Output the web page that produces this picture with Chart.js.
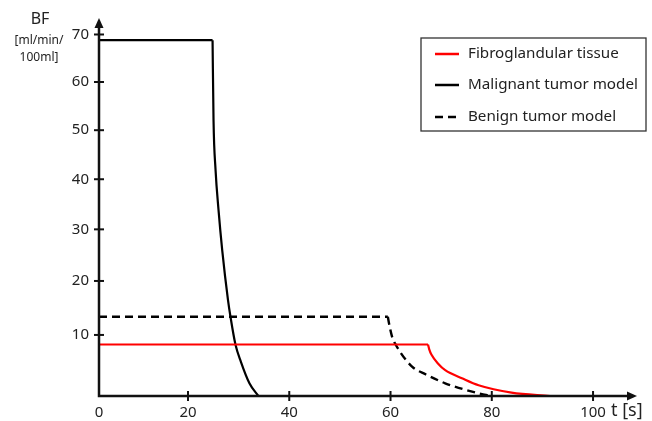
<!DOCTYPE html>
<html><head><meta charset="utf-8">
<script src="https://cdn.jsdelivr.net/npm/chart.js@4.4.1/dist/chart.umd.min.js"></script>
<style>html,body{margin:0;padding:0;background:#fff;} #wrap{width:652px;height:421px;}</style>
</head><body><div id="wrap"><canvas id="c" width="652" height="421"></canvas></div>
<script>
// ---- data ----
const xTickValues = [20, 40, 60, 80, 100];
const yTickValues = [10, 20, 30, 40, 50, 60, 70];
const seriesNames = ['Fibroglandular tissue', 'Malignant tumor model', 'Benign tumor model'];

// time [s] and blood flow [ml/min/100ml]; index 1 is the end of the plateau
const fibroT  = [2.42, 67.4, 67.63, 68.1, 69.5, 70.8, 74.1, 77.4, 83.9, 91.5];
const fibroBF = [8.3,  8.3,  7.5,   6.5,  4.9,  3.9,  2.6,  1.5,  0.42, 0];

const maligT  = [2.42, 24.85, 25.04, 25.44, 26.03, 26.76, 27.9, 28.39, 29.37, 30.45, 32.13, 33.9];
const maligBF = [68.8, 68.8,  52.1,  41.9,  33.8,  25.9,  16.4, 13.3,  8.3,   5.3,   1.8,   0];

const benignT  = [2.42, 59.47, 59.7, 60.3, 61.0, 64.25, 67.0, 70.8, 77.4, 80.0];
const benignBF = [13.3, 13.3,  12.1, 9.7,  8.3,  4.5,   3.2,  1.8,  0.33, 0];

// ---- scale settings ----
const X_MIN = 2.42, X_MAX = 107.3;
const Y_MIN = 0, Y_MAX = 71.8;
const Y_EXPONENT = 0.914;

class PowerScale extends Chart.LinearScale {
  getPixelForValue(value) {
    if (value === null || isNaN(value)) return NaN;
    const f = Math.max(0, (value - this.min) / (this.max - this.min));
    return this.getPixelForDecimal(Math.pow(f, Y_EXPONENT));
  }
  getValueForPixel(pixel) {
    const d = Math.max(0, this.getDecimalForPixel(pixel));
    return this.min + Math.pow(d, 1 / Y_EXPONENT) * (this.max - this.min);
  }
}
PowerScale.id = 'power';
PowerScale.defaults = Chart.LinearScale.defaults;
Chart.register(PowerScale);

const toPts = (ts, vs) => ts.map((t, i) => ({x: t, y: vs[i]}));
const styles = [
  {borderColor: '#ff0000', borderWidth: 2.2, borderDash: []},
  {borderColor: '#000000', borderWidth: 2.2, borderDash: []},
  {borderColor: '#000000', borderWidth: 2.4, borderDash: [8, 5]}
];
const series = [[fibroT, fibroBF], [maligT, maligBF], [benignT, benignBF]];
const datasets = [];
series.forEach(([ts, vs], i) => {
  const pts = toPts(ts, vs);
  // flat plateau (straight) and wash-out curve (smooth), joined at a sharp corner
  datasets.push(Object.assign({label: seriesNames[i], data: pts.slice(0, 2), pointRadius: 0, tension: 0, clip: false}, styles[i]));
  datasets.push(Object.assign({label: seriesNames[i], data: pts.slice(1), pointRadius: 0, cubicInterpolationMode: 'monotone', clip: false}, styles[i]));
});

const FONT = "'Noto Sans', 'DejaVu Sans', sans-serif";
const TXT = '#222';

const decor = {
  id: 'decor',
  afterDraw(chart) {
    const ctx = chart.ctx, xs = chart.scales.x, ys = chart.scales.y, a = chart.chartArea;
    ctx.save();
    ctx.strokeStyle = '#111'; ctx.fillStyle = '#111';
    ctx.lineWidth = 2.5; ctx.lineCap = 'butt';
    ctx.beginPath();
    ctx.moveTo(a.left, a.top); ctx.lineTo(a.left, a.bottom); ctx.lineTo(a.right, a.bottom);
    ctx.stroke();
    ctx.beginPath();
    ctx.moveTo(a.left, a.top - 8); ctx.lineTo(a.left - 4.5, a.top + 2); ctx.lineTo(a.left + 4.5, a.top + 2);
    ctx.closePath(); ctx.fill();
    ctx.beginPath();
    ctx.moveTo(a.right + 7, a.bottom); ctx.lineTo(a.right - 3, a.bottom - 4.5); ctx.lineTo(a.right - 3, a.bottom + 4.5);
    ctx.closePath(); ctx.fill();
    ctx.lineWidth = 2;
    ys.ticks.forEach(t => {
      const p = ys.getPixelForValue(t.value);
      ctx.beginPath(); ctx.moveTo(a.left - 5, p); ctx.lineTo(a.left + 5, p); ctx.stroke();
    });
    xs.ticks.forEach((t, i) => {
      if (i === 0) return;
      const p = xs.getPixelForValue(t.value);
      ctx.beginPath(); ctx.moveTo(p, a.bottom - 5); ctx.lineTo(p, a.bottom + 5); ctx.stroke();
    });
    ctx.fillStyle = TXT;
    ctx.textAlign = 'center'; ctx.textBaseline = 'middle';
    ctx.font = '16px ' + FONT; ctx.fillText('BF', 40, 19);
    ctx.font = '12px ' + FONT; ctx.fillText('[ml/min/', 39, 41);
    ctx.fillText('100ml]', 39, 58);
    ctx.textAlign = 'left';
    ctx.font = '18px ' + FONT; ctx.fillText('t [s]', a.right - 19, a.bottom + 15);
    // legend
    const bx = 421, by = 38, bw = 225, bh = 93;
    ctx.lineWidth = 1.3; ctx.strokeStyle = '#333';
    ctx.strokeRect(bx, by, bw, bh);
    const rows = [16, 47, 79];
    seriesNames.forEach((name, i) => {
      const y = by + rows[i];
      ctx.save();
      ctx.strokeStyle = styles[i].borderColor; ctx.lineWidth = 2.5;
      ctx.setLineDash(styles[i].borderDash);
      ctx.beginPath(); ctx.moveTo(bx + 14, y); ctx.lineTo(bx + 38, y); ctx.stroke();
      ctx.restore();
      ctx.fillStyle = TXT; ctx.font = '15.2px ' + FONT;
      ctx.textAlign = 'left'; ctx.textBaseline = 'middle';
      ctx.fillText(name, bx + 47, y);
    });
    ctx.restore();
  }
};

new Chart(document.getElementById('c'), {
  type: 'line',
  data: {datasets},
  options: {
    responsive: false, animation: false, devicePixelRatio: 1,
    layout: {padding: {top: 26, right: 22, left: 0, bottom: 0}},
    plugins: {legend: {display: false}, tooltip: {enabled: false}},
    scales: {
      x: {
        type: 'linear', min: X_MIN, max: X_MAX,
        afterBuildTicks: s => { s.ticks = [{value: X_MIN}].concat(xTickValues.map(v => ({value: v}))); },
        afterFit: s => { s.height = 25; },
        grid: {display: false, drawTicks: false},
        border: {display: false},
        ticks: {padding: 8, color: TXT, font: {family: FONT, size: 15}, maxRotation: 0, autoSkip: false,
          callback: (v, i) => i === 0 ? '0' : String(v)}
      },
      y: {
        type: 'power', min: Y_MIN, max: Y_MAX,
        afterBuildTicks: s => { s.ticks = yTickValues.map(v => ({value: v})); },
        afterFit: s => { s.width = 99; },
        grid: {display: false, drawTicks: false},
        border: {display: false},
        ticks: {padding: 10, color: TXT, font: {family: FONT, size: 15}, autoSkip: false}
      }
    }
  },
  plugins: [decor]
});
</script>
</body></html>
